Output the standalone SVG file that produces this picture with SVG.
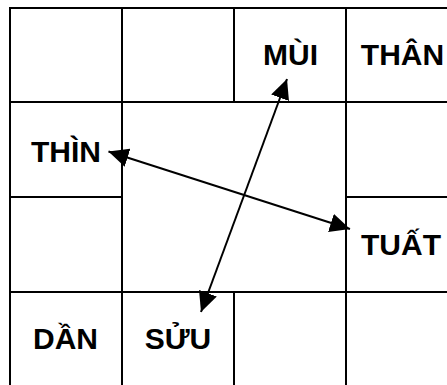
<svg xmlns="http://www.w3.org/2000/svg" width="447" height="385" viewBox="0 0 447 385">
<style>
.g{stroke:#000;stroke-width:2;fill:none}
.t{font-family:"Liberation Sans",Arial,sans-serif;font-weight:bold;font-size:30px;fill:#000;text-anchor:middle}
.c{stroke:#000;stroke-width:2;fill:none;marker-start:url(#ah);marker-end:url(#ah)}
</style>
<defs>
<marker id="ah" viewBox="0 -10 20 20" refX="20" refY="0" markerWidth="20" markerHeight="20" markerUnits="userSpaceOnUse" orient="auto-start-reverse">
<path d="M0,-9.5 L20,0 L0,9.5 Z" fill="#000"/>
</marker>
</defs>
<rect width="447" height="385" fill="#fff"/>
<g id="grid" class="g">
<line x1="9" y1="8" x2="447" y2="8"/>
<line x1="10" y1="8" x2="10" y2="385"/>
<line x1="122" y1="8" x2="122" y2="385"/>
<line x1="346" y1="8" x2="346" y2="385"/>
<line x1="234" y1="8" x2="234" y2="102"/>
<line x1="234" y1="292" x2="234" y2="385"/>
<line x1="10" y1="102" x2="447" y2="102"/>
<line x1="10" y1="292" x2="447" y2="292"/>
<line x1="10" y1="197" x2="122" y2="197"/>
<line x1="346" y1="197" x2="447" y2="197"/>
</g>
<g id="mui"><text class="t" x="290.5" y="65">MÙI</text></g>
<g id="than"><text class="t" x="402.5" y="65">THÂN</text></g>
<g id="thin"><text class="t" x="66" y="162">THÌN</text></g>
<g id="tuat"><text class="t" x="401" y="255">TUẤT</text></g>
<g id="dan"><text class="t" x="65.5" y="349">DẦN</text></g>
<g id="suu"><text class="t" x="178" y="349">SỬU</text></g>
<g id="connectors">
<line class="c" x1="287" y1="79" x2="201" y2="312"/>
<line class="c" x1="108.5" y1="151.5" x2="350" y2="229"/>
</g>
</svg>
